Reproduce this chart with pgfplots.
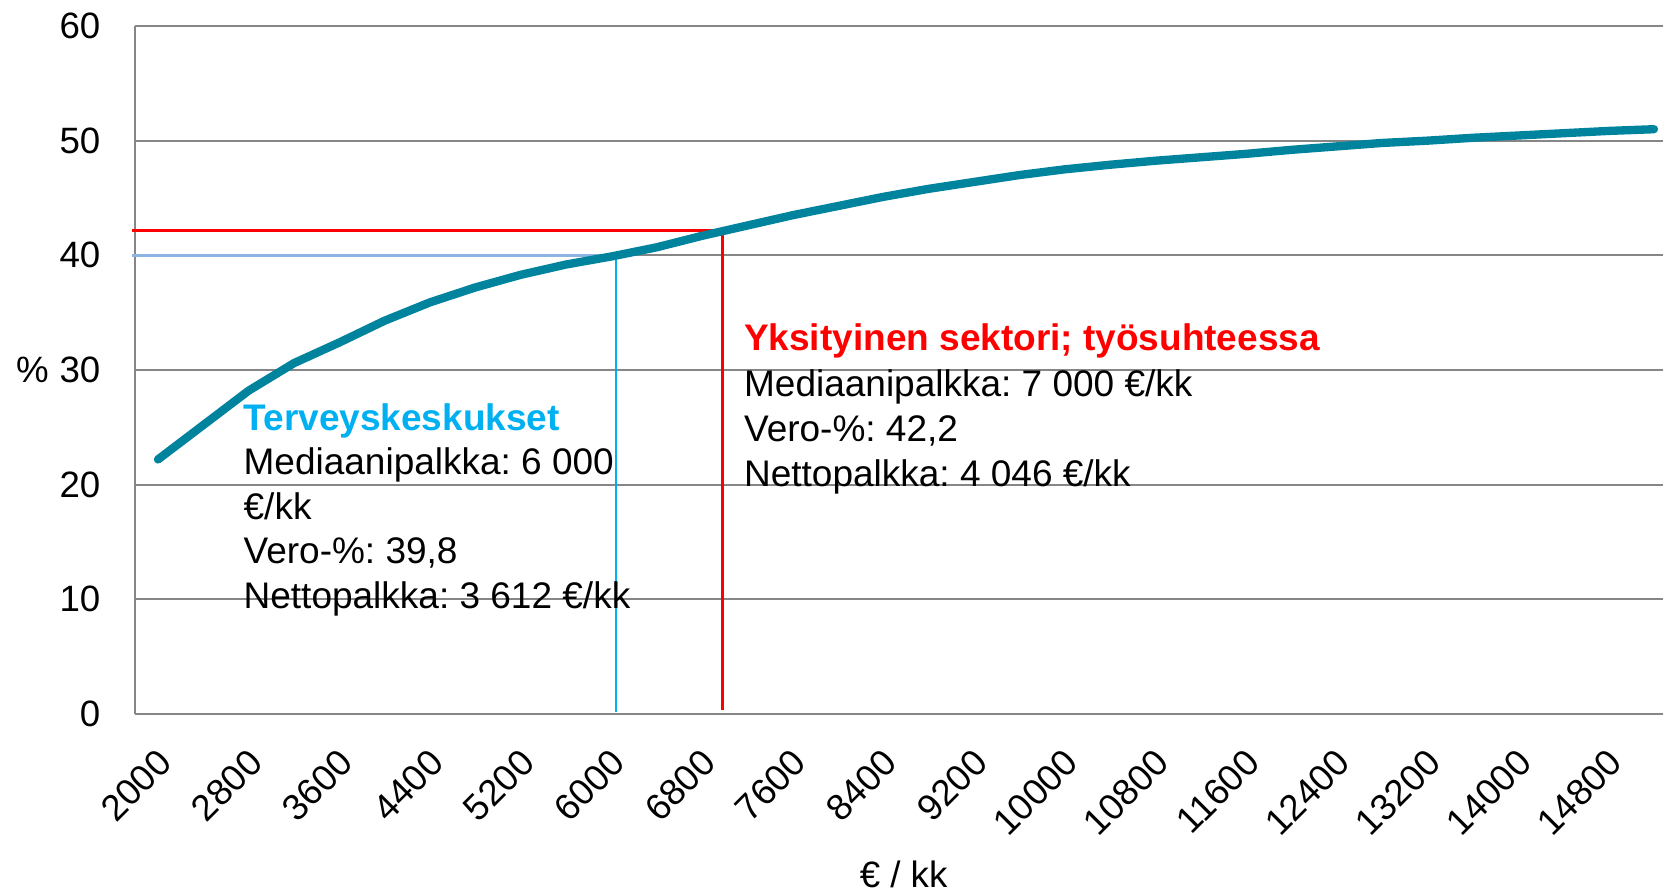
\documentclass[border=0pt]{standalone}
\usepackage{fontspec}
\setmainfont{Liberation Sans}
\usepackage{pgfplots}
\pgfplotsset{compat=1.18}
\definecolor{teal1}{HTML}{00839C}
\definecolor{gridg}{HTML}{868686}
\definecolor{lblue}{HTML}{8DB4E2}
\definecolor{cyanb}{HTML}{00B0F0}
\definecolor{redb}{HTML}{FF0000}
\newcommand\cf{\fontsize{11}{13.5}\selectfont}
\newcommand\tf{\fontsize{11.1}{13.5}\selectfont\frenchspacing}
\begin{document}
\frenchspacing
\begin{tikzpicture}
\path[use as bounding box] (0,0) rectangle (498.9pt,267.9pt);
\begin{axis}[
  at={(40.5pt,53.7pt)}, anchor=south west,
  scale only axis, width=458.4pt, height=206.4pt,
  xmin=1797, xmax=15280, ymin=0, ymax=60,
  axis x line=bottom, axis y line=left,
  axis line style={-, gridg, line width=0.6pt},
  ytick={0,10,...,60},
  xtick={2000,2800,3600,4400,5200,6000,6800,7600,8400,9200,10000,10800,11600,12400,13200,14000,14800},
  xticklabels={2000,2800,3600,4400,5200,6000,6800,7600,8400,9200,10000,10800,11600,12400,13200,14000,14800},
  scaled x ticks=false,
  major tick length=0pt,
  ymajorgrids, grid style={gridg, line width=0.6pt},
  font=\cf,
  /pgf/number format/assume math mode=true,
  /pgf/number format/set thousands separator={},
  xticklabel style={inner sep=0pt, xshift=2.2pt, yshift=-12.6pt, rotate=45, anchor=east},
  yticklabel style={inner sep=0pt, xshift=-10.2pt, anchor=east},
  xlabel={€ / kk}, ylabel={\%},
  every axis x label/.style={at={(axis description cs:0.503,-0.2515)}, anchor=base},
  every axis y label/.style={at={(axis description cs:-0.0671,0.5)}, anchor=center},
  clip=false,
]
% reference lines
\addplot[lblue, line width=0.75pt] coordinates {(1770,40) (6040,40)};
\addplot[cyanb, line width=0.6pt] coordinates {(6040,40) (6040,0.2)};
\addplot[redb, line width=0.9pt] coordinates {(1770,42.2) (6980,42.2)};
\addplot[redb, line width=0.9pt] coordinates {(6980,42.2) (6980,0.35)};
% tax curve
\addplot[teal1, line width=2.5pt, line cap=round, line join=round] coordinates {
(2000,22.2) (2400,25.2) (2800,28.2) (3200,30.6) (3600,32.4) (4000,34.3)
(4400,35.9) (4800,37.2) (5200,38.3) (5600,39.2) (6000,39.9) (6400,40.7)
(6800,41.7) (7200,42.6) (7600,43.5) (8000,44.3) (8400,45.1) (8800,45.8)
(9200,46.4) (9600,47.0) (10000,47.5) (10400,47.9) (10800,48.25) (11200,48.55)
(11600,48.85) (12000,49.2) (12400,49.5) (12800,49.8) (13200,50.0) (13600,50.25)
(14000,50.45) (14400,50.65) (14800,50.85) (15200,51.0)
};
% annotations
\node[anchor=base west, inner sep=0pt, font=\tf\bfseries, text=cyanb] at (axis cs:2750,24.76) {Terveyskeskukset};
\node[anchor=base west, inner sep=0pt, font=\tf] at (axis cs:2750,20.87) {Mediaanipalkka: 6 000};
\node[anchor=base west, inner sep=0pt, font=\tf] at (axis cs:2750,16.98) {€/kk};
\node[anchor=base west, inner sep=0pt, font=\tf] at (axis cs:2750,13.10) {Vero-\%: 39,8};
\node[anchor=base west, inner sep=0pt, font=\tf] at (axis cs:2750,9.21) {Nettopalkka: 3 612 €/kk};
\node[anchor=base west, inner sep=0pt, font=\tf\bfseries, text=redb] at (axis cs:7166,31.74) {Yksityinen sektori; työsuhteessa};
\node[anchor=base west, inner sep=0pt, font=\tf] at (axis cs:7166,27.66) {Mediaanipalkka: 7 000 €/kk};
\node[anchor=base west, inner sep=0pt, font=\tf] at (axis cs:7166,23.74) {Vero-\%: 42,2};
\node[anchor=base west, inner sep=0pt, font=\tf] at (axis cs:7166,19.82) {Nettopalkka: 4 046 €/kk};
\end{axis}
\end{tikzpicture}
\end{document}
